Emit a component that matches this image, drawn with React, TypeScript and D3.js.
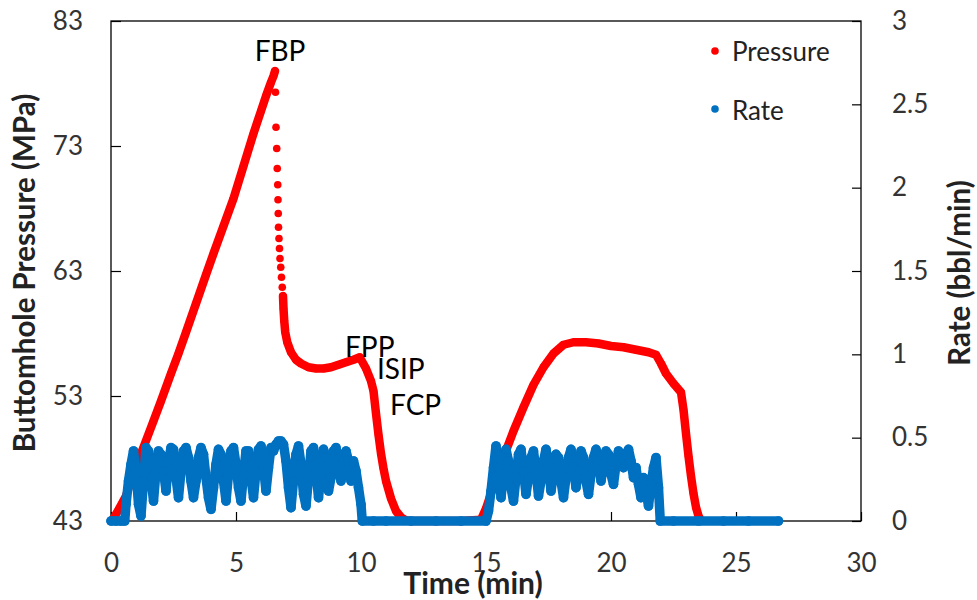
import React, { useEffect, useRef } from 'react';
import * as d3 from 'd3';

// time (min) vs bottomhole pressure (MPa)
const pressureBuild: [number, number][] = [
  [0.1, 43.2], [0.3, 43.9], [0.6, 45.0], [0.9, 46.9], [1.3, 48.9], [1.7, 51.0],
  [2.0, 52.6], [2.4, 54.8], [2.7, 56.4], [3.0, 58.1], [3.4, 60.4], [3.8, 62.7],
  [4.1, 64.4], [4.5, 66.6], [4.9, 68.8], [5.3, 71.4], [5.7, 74.0], [6.0, 75.8],
  [6.2, 77.0], [6.4, 78.1], [6.5, 78.6], [6.56, 79.0],
];

// sparse samples right after breakdown
const pressureBreak: [number, number][] = [
  [6.58, 77.3], [6.6, 74.5], [6.63, 72.8], [6.65, 71.2], [6.67, 69.9], [6.68, 68.7],
  [6.69, 67.6], [6.7, 66.5], [6.72, 65.6], [6.74, 64.8], [6.76, 64.0], [6.79, 63.3],
  [6.82, 62.5], [6.85, 61.7],
];

const pressureRest: [number, number][] = [
  [6.88, 61.0], [6.9, 60.0], [6.93, 59.0], [6.97, 58.1], [7.05, 57.3], [7.2, 56.5],
  [7.4, 55.9], [7.6, 55.6], [7.9, 55.3], [8.2, 55.2], [8.5, 55.2], [8.8, 55.3],
  [9.1, 55.5], [9.4, 55.7], [9.7, 55.9], [9.95, 56.1], [10.2, 55.2], [10.4, 54.2],
  [10.5, 53.4], [10.6, 51.6], [10.7, 49.9], [10.8, 48.4], [10.9, 47.2], [11.0, 46.2],
  [11.2, 44.8], [11.4, 43.8], [11.6, 43.3], [11.8, 43.05], [12.0, 43.0], [13.0, 43.0],
  [14.0, 43.0], [14.8, 43.1], [15.0, 44.0], [15.3, 45.8], [15.7, 48.1], [16.1, 50.2],
  [16.5, 52.1], [16.9, 53.9], [17.3, 55.3], [17.7, 56.4], [18.1, 57.1], [18.5, 57.3],
  [19.0, 57.3], [19.5, 57.2], [20.0, 57.0], [20.5, 56.9], [21.0, 56.7], [21.5, 56.5],
  [21.8, 56.3], [22.0, 55.6], [22.2, 54.8], [22.5, 54.0], [22.8, 53.3], [22.9, 51.9],
  [23.0, 50.0], [23.1, 48.2], [23.2, 46.6], [23.3, 45.2], [23.4, 44.1], [23.5, 43.4],
  [23.6, 43.0],
];

// time (min) vs injection rate (bbl/min)
const rateSeries: [number, number][] = [
  [0, 0], [0.2, 0], [0.4, 0], [0.55, 0],
  [0.6, 0.10], [0.7, 0.24], [0.8, 0.34], [0.9, 0.42], [1.0, 0.30], [1.1, 0.10],
  [1.2, 0.03], [1.3, 0.24], [1.4, 0.44], [1.5, 0.42], [1.6, 0.26], [1.7, 0.12],
  [1.8, 0.30], [1.9, 0.42], [2.0, 0.40], [2.1, 0.30], [2.2, 0.18], [2.3, 0.36],
  [2.4, 0.44], [2.5, 0.43], [2.6, 0.26], [2.7, 0.14], [2.8, 0.30], [2.9, 0.42],
  [3.0, 0.44], [3.1, 0.38], [3.2, 0.24], [3.3, 0.14], [3.4, 0.24], [3.5, 0.38],
  [3.6, 0.44], [3.7, 0.40], [3.8, 0.26], [3.9, 0.14], [4.0, 0.07], [4.1, 0.20],
  [4.2, 0.34], [4.3, 0.43], [4.4, 0.40], [4.5, 0.24], [4.6, 0.12], [4.7, 0.28],
  [4.8, 0.42], [4.9, 0.44], [5.0, 0.34], [5.1, 0.20], [5.2, 0.12], [5.3, 0.28],
  [5.4, 0.42], [5.5, 0.42], [5.6, 0.26], [5.7, 0.14], [5.8, 0.30], [5.9, 0.43],
  [6.0, 0.45], [6.1, 0.32], [6.2, 0.18], [6.3, 0.32], [6.4, 0.44], [6.5, 0.42],
  [6.6, 0.46], [6.7, 0.48], [6.8, 0.48], [6.9, 0.46], [7.0, 0.36], [7.1, 0.20],
  [7.2, 0.08], [7.3, 0.24], [7.4, 0.40], [7.5, 0.45], [7.6, 0.34], [7.7, 0.16],
  [7.8, 0.09], [7.9, 0.26], [8.0, 0.42], [8.1, 0.44], [8.2, 0.30], [8.3, 0.14],
  [8.4, 0.28], [8.5, 0.43], [8.6, 0.38], [8.7, 0.18], [8.8, 0.26], [8.9, 0.42],
  [9.0, 0.44], [9.1, 0.34], [9.2, 0.24], [9.3, 0.36], [9.4, 0.42], [9.5, 0.36],
  [9.6, 0.24], [9.7, 0.36], [9.8, 0.30], [9.9, 0.20], [10.0, 0.10], [10.05, 0],
  [10.5, 0], [11.0, 0], [12.0, 0], [13.0, 0], [14.0, 0], [15.0, 0],
  [15.1, 0.06], [15.2, 0.18], [15.3, 0.32], [15.4, 0.45], [15.5, 0.32], [15.6, 0.14],
  [15.7, 0.28], [15.8, 0.43], [15.9, 0.36], [16.0, 0.20], [16.1, 0.12], [16.2, 0.26],
  [16.3, 0.40], [16.4, 0.43], [16.5, 0.30], [16.6, 0.16], [16.7, 0.26], [16.8, 0.38],
  [16.9, 0.42], [17.0, 0.30], [17.1, 0.15], [17.2, 0.24], [17.3, 0.36], [17.4, 0.43],
  [17.5, 0.34], [17.6, 0.18], [17.7, 0.28], [17.8, 0.40], [17.9, 0.38], [18.0, 0.24],
  [18.1, 0.14], [18.2, 0.26], [18.3, 0.38], [18.4, 0.43], [18.5, 0.32], [18.6, 0.20],
  [18.7, 0.30], [18.8, 0.42], [18.9, 0.38], [19.0, 0.24], [19.1, 0.16], [19.2, 0.28],
  [19.3, 0.38], [19.4, 0.43], [19.5, 0.36], [19.6, 0.24], [19.7, 0.34], [19.8, 0.42],
  [19.9, 0.40], [20.0, 0.28], [20.1, 0.22], [20.2, 0.34], [20.3, 0.42], [20.4, 0.40],
  [20.5, 0.32], [20.6, 0.40], [20.7, 0.43], [20.8, 0.36], [20.9, 0.26], [21.0, 0.32],
  [21.1, 0.22], [21.2, 0.14], [21.3, 0.26], [21.4, 0.18], [21.5, 0.09], [21.6, 0.22],
  [21.7, 0.32], [21.8, 0.38], [21.9, 0.20], [21.97, 0],
  [22.5, 0], [23.5, 0], [24.5, 0], [25.5, 0], [26.7, 0],
];

const timeTicks = [0, 5, 10, 15, 20, 25, 30];
const pressureTicks = [43, 53, 63, 73, 83];
const rateTicks = [0, 0.5, 1, 1.5, 2, 2.5, 3];

const WIDTH = 977;
const HEIGHT = 600;
const margin = { top: 21, right: 116, bottom: 79, left: 111 };
const FONT = 'Lato, "Open Sans", sans-serif';
const RED = '#ff0000';
const BLUE = '#0070c0';

const App = () => {
  const svgRef = useRef<SVGSVGElement | null>(null);

  useEffect(() => {
    if (!svgRef.current) return;
    const svg = d3.select(svgRef.current);
    svg.selectAll('*').remove();

    const x = d3.scaleLinear().domain([0, 30]).range([margin.left, WIDTH - margin.right]);
    const yP = d3.scaleLinear().domain([43, 83]).range([HEIGHT - margin.bottom, margin.top]);
    const yR = d3.scaleLinear().domain([0, 3]).range([HEIGHT - margin.bottom, margin.top]);

    const styleAxis = (g: any) => {
      g.attr('font-family', FONT).attr('font-size', 26);
      g.select('.domain').remove();
      g.selectAll('.tick line').attr('stroke', '#000').attr('stroke-width', 1.2);
      g.selectAll('.tick text').attr('fill', '#333');
    };

    // axes (ticks point inward)
    svg.append('g')
      .attr('transform', `translate(0,${HEIGHT - margin.bottom})`)
      .call(d3.axisBottom(x).tickValues(timeTicks).tickSize(-9).tickPadding(33))
      .call(styleAxis);

    svg.append('g')
      .attr('transform', `translate(${margin.left},0)`)
      .call(d3.axisLeft(yP).tickValues(pressureTicks).tickSize(-10).tickPadding(28))
      .call(styleAxis);

    svg.append('g')
      .attr('transform', `translate(${WIDTH - margin.right},0)`)
      .call(d3.axisRight(yR).tickValues(rateTicks).tickSize(-9).tickPadding(31).tickFormat(d3.format('~g')))
      .call(styleAxis)
      .call((g: any) => g.selectAll('.tick text').attr('text-anchor', 'start'));

    // plot frame
    svg.append('rect')
      .attr('x', margin.left)
      .attr('y', margin.top)
      .attr('width', WIDTH - margin.left - margin.right)
      .attr('height', HEIGHT - margin.top - margin.bottom)
      .attr('fill', 'none')
      .attr('stroke', '#000')
      .attr('stroke-width', 1.3);

    // pressure
    const pLine = d3.line<[number, number]>().x(d => x(d[0])).y(d => yP(d[1]));
    [pressureBuild, pressureRest].forEach(seg => {
      svg.append('path')
        .attr('d', pLine(seg))
        .attr('fill', 'none')
        .attr('stroke', RED)
        .attr('stroke-width', 8.5)
        .attr('stroke-linecap', 'round')
        .attr('stroke-linejoin', 'round');
    });
    svg.append('g')
      .selectAll('circle')
      .data([...pressureBuild, ...pressureBreak, ...pressureRest])
      .join('circle')
      .attr('cx', d => x(d[0]))
      .attr('cy', d => yP(d[1]))
      .attr('r', 3.8)
      .attr('fill', RED);

    // rate
    const rLine = d3.line<[number, number]>().x(d => x(d[0])).y(d => yR(d[1]));
    svg.append('path')
      .attr('d', rLine(rateSeries))
      .attr('fill', 'none')
      .attr('stroke', BLUE)
      .attr('stroke-width', 9.5)
      .attr('stroke-linecap', 'round')
      .attr('stroke-linejoin', 'round');
    svg.append('g')
      .selectAll('circle')
      .data(rateSeries)
      .join('circle')
      .attr('cx', d => x(d[0]))
      .attr('cy', d => yR(d[1]))
      .attr('r', 4.8)
      .attr('fill', BLUE);

    // annotations
    const notes: [string, number, number, string][] = [
      ['FBP', 6.76, 79.8, 'middle'],
      ['FPP', 9.36, 56.1, 'start'],
      ['ISIP', 10.64, 54.4, 'start'],
      ['FCP', 11.16, 51.5, 'start'],
    ];
    svg.append('g')
      .selectAll('text')
      .data(notes)
      .join('text')
      .attr('x', d => x(d[1]))
      .attr('y', d => yP(d[2]))
      .attr('text-anchor', d => d[3])
      .attr('font-family', FONT)
      .attr('font-size', 28)
      .attr('fill', '#000')
      .text(d => d[0]);

    // legend
    const legend = svg.append('g').attr('transform', `translate(${WIDTH - margin.right - 146},0)`);
    [['Pressure', RED, 51, 61], ['Rate', BLUE, 109, 120]].forEach(([label, color, cy, ty]) => {
      legend.append('circle').attr('cx', 0).attr('cy', cy as number).attr('r', 3.8).attr('fill', color as string);
      legend.append('text')
        .attr('x', 17)
        .attr('y', ty as number)
        .attr('font-family', FONT)
        .attr('font-size', 26)
        .attr('fill', '#222')
        .text(label as string);
    });

    // axis titles
    const midY = (margin.top + HEIGHT - margin.bottom) / 2 + 2;
    svg.append('text')
      .attr('x', 473)
      .attr('y', 594)
      .attr('text-anchor', 'middle')
      .attr('font-family', FONT)
      .attr('font-weight', 'bold')
      .attr('font-size', 30)
      .attr('fill', '#222')
      .text('Time (min)');

    svg.append('text')
      .attr('transform', `translate(35,${midY}) rotate(-90)`)
      .attr('text-anchor', 'middle')
      .attr('font-family', FONT)
      .attr('font-weight', 'bold')
      .attr('font-size', 29.5)
      .attr('fill', '#222')
      .text('Buttomhole Pressure (MPa)');

    svg.append('text')
      .attr('transform', `translate(970,${midY}) rotate(-90)`)
      .attr('text-anchor', 'middle')
      .attr('font-family', FONT)
      .attr('font-weight', 'bold')
      .attr('font-size', 29.5)
      .attr('fill', '#222')
      .text('Rate (bbl/min)');
  }, []);

  return (
    <svg
      ref={svgRef}
      width={WIDTH}
      height={HEIGHT}
      style={{ position: 'absolute', left: 0, top: 0, background: '#fff' }}
    />
  );
};

export default App;
